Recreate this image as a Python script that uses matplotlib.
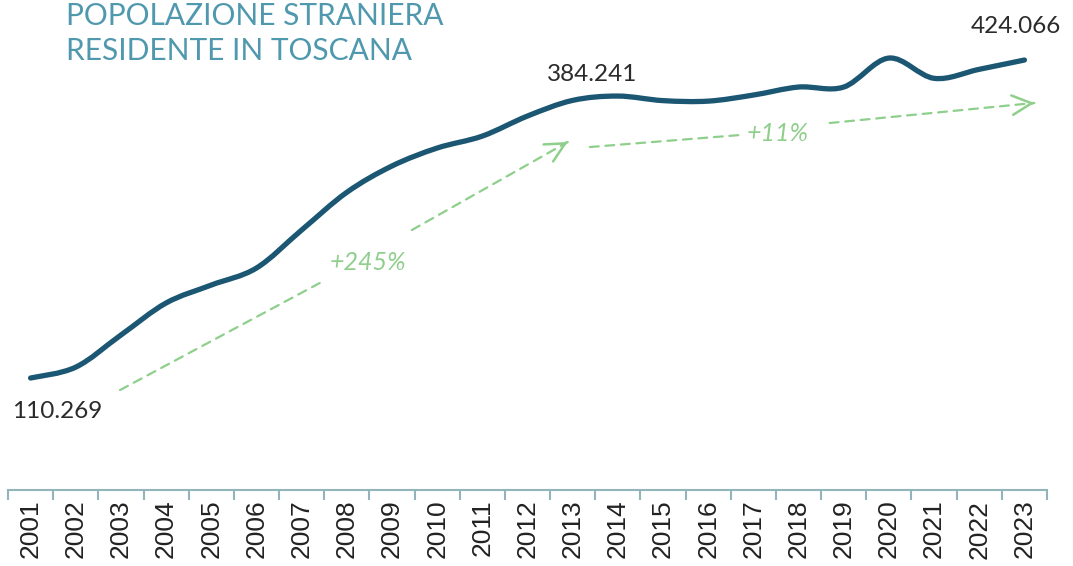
# Popolazione straniera residente in Toscana, 2001-2023

import matplotlib.pyplot as plt
import numpy as np
from matplotlib.path import Path
from matplotlib.patches import PathPatch

years = [str(y) for y in range(2001, 2024)]
residents = [110269, 121000, 152700, 184300, 202000, 218800, 256300, 293500,
             319500, 337200, 349000, 368800, 384241, 388500, 384000, 383500,
             389500, 397400, 397400, 426000, 406000, 414900, 424066]

line_col = "#1b5672"
title_col = "#4f98ad"
green_col = "#8fcf8c"
axis_col = "#93b5ba"

x = np.arange(len(years))
y = np.array(residents, dtype=float)

fig = plt.figure(figsize=(10.73, 5.66), dpi=100)
ax = fig.add_axes([8 / 1073, 76 / 566, (1047 - 8) / 1073, 490 / 566])
ax.set_xlim(-0.5, len(years) - 0.5)
ax.set_ylim(-250, 483300)

# smooth line through the yearly values (Catmull-Rom as cubic Bezier)
pts = np.column_stack([x, y])
verts = [pts[0]]
codes = [Path.MOVETO]
for i in range(len(pts) - 1):
    p0 = pts[i - 1] if i > 0 else pts[i]
    p1, p2 = pts[i], pts[i + 1]
    p3 = pts[i + 2] if i + 2 < len(pts) else pts[i + 1]
    verts += [p1 + (p2 - p0) / 6, p2 - (p3 - p1) / 6, p2]
    codes += [Path.CURVE4] * 3
ax.add_patch(PathPatch(Path(verts, codes), facecolor="none", edgecolor=line_col,
                       lw=3.8, capstyle="round", joinstyle="round"))

# value labels
num_font = dict(family="Lato", fontsize=17.5, color="#2b2b2b")
ax.text(x[0] + 0.58, y[0] - 33000, "110.269", ha="center", va="center", **num_font)
ax.text(x[12] + 0.42, y[12] + 26000, "384.241", ha="center", va="center", **num_font)
ax.text(x[22] - 0.2, y[22] + 33000, "424.066", ha="center", va="center", **num_font)

# growth arrows
dash = dict(color=green_col, lw=1.6, ls=(0, (4, 3)))
def seg(x0, y0, x1, y1, head=False):
    ax.annotate("", xy=(x1, y1), xytext=(x0, y0),
                arrowprops=dict(arrowstyle="-", **dash, shrinkA=0, shrinkB=0))
    if head:
        # open chevron only, on a very short stub at the end
        xs, ys = x1 - 0.01 * (x1 - x0), y1 - 0.01 * (y1 - y0)
        ax.annotate("", xy=(x1, y1), xytext=(xs, ys),
                    arrowprops=dict(arrowstyle="->,head_length=1.4,head_width=0.7",
                                    color=green_col, lw=1.8, ls="-",
                                    shrinkA=0, shrinkB=0))

seg(1.98, 98400, 6.40, 204000)
seg(8.44, 256300, 11.89, 343200, head=True)
ax.text(7.46, 224000, "+245%", ha="center", va="center", family="Lato",
        style="italic", fontsize=18, color=green_col)
seg(12.38, 338200, 15.69, 350000)
ax.text(16.54, 352000, "+11%", ha="center", va="center", family="Lato",
        style="italic", fontsize=18, color=green_col)
seg(17.69, 361900, 22.22, 381700, head=True)

# title
fig.text(66 / 1073, 1 - 2 / 566, "POPOLAZIONE STRANIERA\nRESIDENTE IN TOSCANA",
         ha="left", va="top", family="Lato", fontsize=21.5, color=title_col,
         linespacing=1.32)

# axis
for s in ["top", "right", "left"]:
    ax.spines[s].set_visible(False)
ax.spines["bottom"].set_color(axis_col)
ax.spines["bottom"].set_linewidth(1.5)
ax.set_yticks([])
ax.set_xticks(x)
ax.set_xticklabels(years, rotation=90, family="Liberation Sans", fontsize=19, color="#222222")
ax.tick_params(axis="x", which="major", length=0, pad=7)
ax.set_xticks(np.arange(-0.5, len(years)), minor=True)
ax.tick_params(axis="x", which="minor", length=7, width=1.5, color=axis_col)

fig.savefig("out.png", dpi=100)
